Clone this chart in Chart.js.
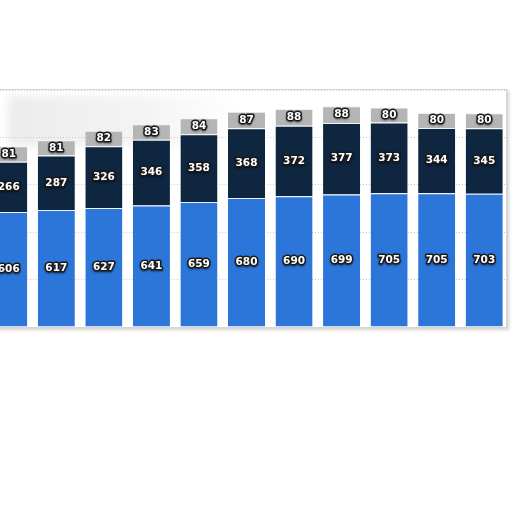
<!DOCTYPE html>
<html>
<head>
<meta charset="utf-8">
<script src="https://cdn.jsdelivr.net/npm/chart.js@4/dist/chart.umd.min.js"></script>
<style>
  html, body { margin: 0; padding: 0; background: #fff; width: 512px; height: 512px; overflow: hidden; }
  #panel {
    position: absolute; left: -4px; top: 89px; width: 509px; height: 237px;
    border: 1px solid #d6d6d6; background: #fff;
    box-shadow: 2px 2px 3px rgba(0,0,0,0.18);
  }
  #blur {
    position: absolute; left: 8px; top: 96px; width: 230px; height: 50px;
    background: linear-gradient(90deg, #ececec, #f4f4f4 60%, rgba(250,250,250,0));
    filter: blur(4px);
  }
  #wrap { position: absolute; left: -15px; top: 90px; width: 523px; height: 237px; }
</style>
</head>
<body>
<div id="panel"></div>
<div id="blur"></div>
<div id="wrap"><canvas id="myChart"></canvas></div>
<script>
// категории (подписи оси X на картинке не видны)
const categories = ['2009', '2010', '2011', '2012', '2013', '2014', '2015', '2016', '2017', '2018', '2019'];
const seriesBlue = [606, 617, 627, 641, 659, 680, 690, 699, 705, 705, 703];
const seriesNavy = [266, 287, 326, 346, 358, 368, 372, 377, 373, 344, 345];
const seriesGray = [81, 81, 82, 83, 84, 87, 88, 88, 80, 80, 80];
const yTicks = [0, 250, 500, 750, 1000, 1250];

// подписи значений внутри сегментов
const segmentLabels = {
  id: 'segmentLabels',
  afterDatasetsDraw(chart) {
    const ctx = chart.ctx;
    ctx.save();
    ctx.font = 'bold 10.5px "DejaVu Sans", Verdana, sans-serif';
    ctx.textAlign = 'center';
    ctx.textBaseline = 'middle';
    ctx.lineJoin = 'round';
    chart.data.datasets.forEach((ds, i) => {
      chart.getDatasetMeta(i).data.forEach((bar, j) => {
        const y = (bar.y + bar.base) / 2;
        const text = String(ds.data[j]);
        ctx.shadowColor = 'rgba(0,0,0,0.5)';
        ctx.shadowBlur = 2;
        ctx.shadowOffsetY = 1;
        ctx.lineWidth = 3;
        ctx.strokeStyle = '#1b1b1b';
        ctx.strokeText(text, bar.x, y);
        ctx.shadowColor = 'transparent';
        ctx.fillStyle = '#ffffff';
        ctx.fillText(text, bar.x, y);
      });
    });
    ctx.restore();
  }
};

const canvas = document.getElementById('myChart');
const context = canvas.getContext('2d');

const config = {
  type: 'bar',
  data: {
    labels: categories,
    datasets: [
      { label: 'Blue', data: seriesBlue, backgroundColor: '#2c76d9' },
      { label: 'Navy', data: seriesNavy, backgroundColor: '#0f2641' },
      { label: 'Gray', data: seriesGray, backgroundColor: '#b5b5b5' }
    ].map(d => Object.assign(d, {
      borderColor: '#eef3fb',
      borderWidth: { top: 1, left: 0, right: 0, bottom: 0 },
      borderSkipped: 'start',
      categoryPercentage: 1,
      barPercentage: 0.78
    }))
  },
  options: {
    responsive: true,
    maintainAspectRatio: false,
    animation: false,
    layout: { padding: 0 },
    plugins: {
      legend: { display: false },
      tooltip: { enabled: false }
    },
    scales: {
      x: {
        stacked: true,
        grid: { display: false, drawTicks: false },
        ticks: { display: false },
        border: { display: true, color: '#555', width: 1 }
      },
      y: {
        stacked: true,
        min: 0,
        max: 1250,
        afterBuildTicks: (scale) => { scale.ticks = yTicks.map(v => ({ value: v })); },
        ticks: { display: false },
        grid: { color: '#c8c8c8', drawTicks: false, lineWidth: 1 },
        border: { display: false, dash: [1, 2] }
      }
    }
  },
  plugins: [segmentLabels]
};

new Chart(context, config);
</script>
</body>
</html>
